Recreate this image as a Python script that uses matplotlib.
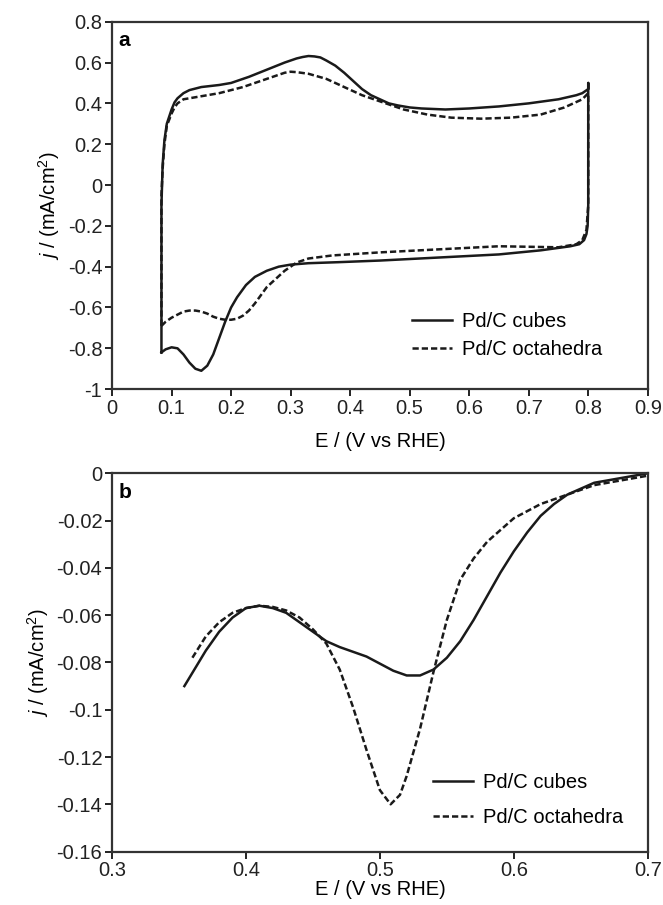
import numpy as np
import matplotlib
matplotlib.use("Agg")
import matplotlib.pyplot as plt
from matplotlib.ticker import FuncFormatter

plt.rcParams["font.family"] = ["Liberation Sans", "DejaVu Sans"]
plt.rcParams["mathtext.fontset"] = "custom"
plt.rcParams["mathtext.it"] = "Liberation Sans:italic"
plt.rcParams["mathtext.rm"] = "Liberation Sans"
plt.rcParams["axes.unicode_minus"] = False

# --- panel a: cyclic voltammograms (anodic sweep then cathodic sweep) ---
cube_a_E = [0.083, 0.083, 0.085, 0.088, 0.092, 0.10, 0.105, 0.11, 0.12, 0.13, 0.15, 0.18, 0.20,
            0.23, 0.26, 0.29, 0.31, 0.32, 0.33, 0.34, 0.35, 0.36, 0.375, 0.39, 0.405, 0.42,
            0.435, 0.45, 0.465, 0.48, 0.50, 0.52, 0.56, 0.60, 0.65, 0.70, 0.75, 0.78,
            0.79, 0.80, 0.80,
            0.80, 0.799, 0.797, 0.793, 0.785, 0.77, 0.72, 0.65, 0.55, 0.45, 0.38, 0.33, 0.30,
            0.28, 0.26, 0.24, 0.225, 0.21, 0.20, 0.19, 0.18, 0.17, 0.16, 0.15, 0.14, 0.13,
            0.12, 0.11, 0.10, 0.09, 0.083]
cube_a_j = [-0.82, -0.10, 0.10, 0.22, 0.30, 0.37, 0.405, 0.425, 0.45, 0.465, 0.48, 0.49, 0.50,
            0.53, 0.565, 0.60, 0.62, 0.627, 0.632, 0.63, 0.625, 0.61, 0.585, 0.55, 0.51, 0.47,
            0.44, 0.42, 0.40, 0.39, 0.38, 0.375, 0.37, 0.375, 0.385, 0.40, 0.42, 0.44,
            0.45, 0.47, 0.50,
            -0.10, -0.20, -0.24, -0.27, -0.29, -0.30, -0.32, -0.34, -0.355, -0.37, -0.378, -0.383, -0.39,
            -0.40, -0.42, -0.45, -0.49, -0.55, -0.60, -0.67, -0.75, -0.83, -0.885, -0.91, -0.90, -0.87,
            -0.83, -0.80, -0.795, -0.805, -0.82]

octa_a_E = [0.083, 0.083, 0.085, 0.088, 0.092, 0.10, 0.105, 0.11, 0.12, 0.14, 0.18, 0.22, 0.26,
            0.28, 0.29, 0.30, 0.31, 0.33, 0.36, 0.39, 0.42, 0.46, 0.49, 0.53, 0.57, 0.62, 0.67,
            0.72, 0.76, 0.79, 0.80,
            0.80, 0.797, 0.79, 0.78, 0.75, 0.65, 0.55, 0.45, 0.37, 0.33, 0.31, 0.29, 0.275,
            0.26, 0.25, 0.24, 0.23, 0.22, 0.21, 0.20, 0.19, 0.18, 0.17, 0.16, 0.15, 0.14, 0.13,
            0.12, 0.11, 0.10, 0.09, 0.083]
octa_a_j = [-0.69, -0.05, 0.08, 0.20, 0.29, 0.35, 0.38, 0.40, 0.42, 0.43, 0.45, 0.48, 0.52,
            0.54, 0.55, 0.555, 0.553, 0.545, 0.52, 0.48, 0.44, 0.40, 0.37, 0.345, 0.33, 0.325, 0.33,
            0.345, 0.38, 0.42, 0.45,
            -0.10, -0.22, -0.27, -0.29, -0.305, -0.30, -0.315, -0.33, -0.345, -0.36, -0.38, -0.42,
            -0.46, -0.50, -0.54, -0.58, -0.615, -0.64, -0.655, -0.66, -0.66, -0.655, -0.645, -0.63,
            -0.62, -0.615, -0.615, -0.62, -0.635, -0.65, -0.67, -0.69]

# --- panel b ---
cube_b_E = [0.354, 0.37, 0.38, 0.39, 0.40, 0.41, 0.42, 0.43, 0.44, 0.45, 0.46, 0.47, 0.48,
            0.49, 0.50, 0.51, 0.52, 0.53, 0.54, 0.55, 0.56, 0.57, 0.58, 0.59, 0.60, 0.61,
            0.62, 0.63, 0.64, 0.65, 0.66, 0.68, 0.70]
cube_b_j = [-0.090, -0.075, -0.067, -0.061, -0.057, -0.056, -0.057, -0.059, -0.063, -0.067,
            -0.071, -0.0735, -0.0755, -0.0775, -0.0805, -0.0835, -0.0855, -0.0855, -0.083, -0.078,
            -0.071, -0.062, -0.052, -0.042, -0.033, -0.025, -0.018, -0.013, -0.009, -0.0065,
            -0.004, -0.002, 0.0]

octa_b_E = [0.36, 0.37, 0.38, 0.39, 0.40, 0.41, 0.42, 0.43, 0.44, 0.45, 0.46, 0.47, 0.48,
            0.49, 0.50, 0.508, 0.515, 0.52, 0.53, 0.54, 0.55, 0.56, 0.57, 0.58, 0.59, 0.60,
            0.62, 0.64, 0.66, 0.68, 0.70]
octa_b_j = [-0.078, -0.069, -0.063, -0.059, -0.057, -0.056, -0.0565, -0.058, -0.061, -0.066,
            -0.072, -0.083, -0.099, -0.117, -0.134, -0.140, -0.136, -0.128, -0.108, -0.084,
            -0.062, -0.045, -0.036, -0.029, -0.024, -0.019, -0.013, -0.009, -0.005, -0.003, -0.001]

labels = ["Pd/C cubes", "Pd/C octahedra"]


def tick_fmt(v, p):
    v = round(v, 6)
    if v == 0:
        return "0"
    return f"{v:g}"


fig = plt.figure(figsize=(6.63, 9.05), dpi=100)
ax_a = fig.add_axes([0.169, 0.570, 0.808, 0.406])
ax_b = fig.add_axes([0.169, 0.059, 0.808, 0.418])

col = "#1a1a1a"
fs = 14.5

for ax in (ax_a, ax_b):
    for s in ax.spines.values():
        s.set_color("#333333")
        s.set_linewidth(1.6)
    ax.tick_params(direction="out", length=5, width=1.4, labelsize=fs, colors="#222222", pad=2)
    ax.xaxis.set_major_formatter(FuncFormatter(tick_fmt))
    ax.yaxis.set_major_formatter(FuncFormatter(tick_fmt))
    ax.set_ylabel(r"$j$ / (mA/cm$^2$)", fontsize=fs, labelpad=4)

ax_a.set_xlabel("E / (V vs RHE)", fontsize=fs, labelpad=10)
ax_b.set_xlabel("E / (V vs RHE)", fontsize=fs, labelpad=0)

ax_a.plot(cube_a_E, cube_a_j, color=col, lw=1.8, ls="-", label=labels[0])
ax_a.plot(octa_a_E, octa_a_j, color=col, lw=1.8, ls=(0, (2.5, 1.2)), label=labels[1])
ax_a.set_xlim(0, 0.9)
ax_a.set_ylim(-1, 0.8)
ax_a.set_xticks(np.arange(0, 0.91, 0.1))
ax_a.set_yticks(np.arange(-1, 0.81, 0.2))
ax_a.text(0.012, 0.975, "a", transform=ax_a.transAxes, fontsize=15, fontweight="bold", va="top")
ax_a.legend(loc="upper left", bbox_to_anchor=(0.56, 0.21), frameon=False, fontsize=fs,
            handlelength=2.0, handletextpad=0.5, labelspacing=0.45, borderpad=0, borderaxespad=0)

ax_b.plot(cube_b_E, cube_b_j, color=col, lw=1.8, ls="-", label=labels[0])
ax_b.plot(octa_b_E, octa_b_j, color=col, lw=1.8, ls=(0, (2.5, 1.2)), label=labels[1])
ax_b.set_xlim(0.3, 0.7)
ax_b.set_ylim(-0.16, 0)
ax_b.set_xticks(np.arange(0.3, 0.71, 0.1))
ax_b.set_yticks(np.arange(-0.16, 0.001, 0.02))
ax_b.text(0.012, 0.975, "b", transform=ax_b.transAxes, fontsize=15, fontweight="bold", va="top")
ax_b.legend(loc="upper left", bbox_to_anchor=(0.599, 0.207), frameon=False, fontsize=fs,
            handlelength=2.0, handletextpad=0.5, labelspacing=0.8, borderpad=0, borderaxespad=0)

plt.savefig("out.png", dpi=100)
plt.close()
